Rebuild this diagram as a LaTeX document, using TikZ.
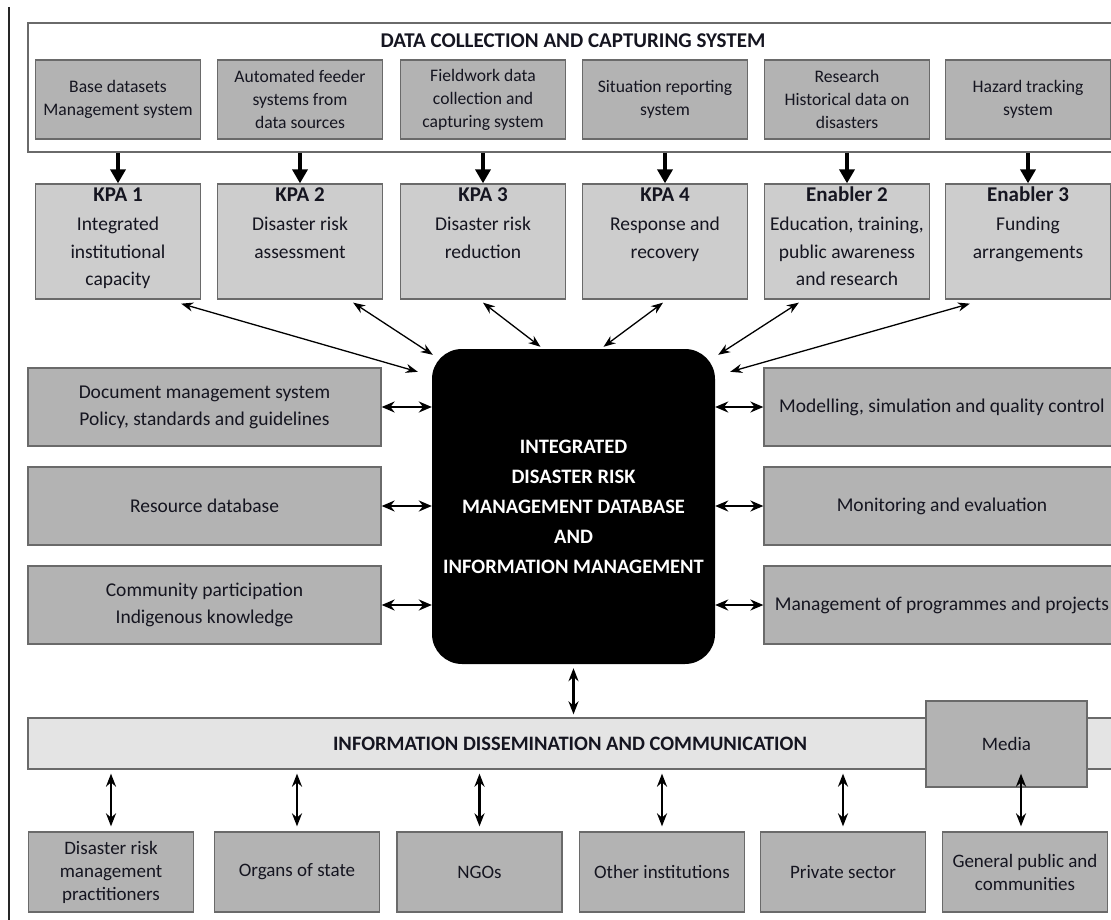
\documentclass[tikz,border=0pt]{standalone}
\usepackage{fontspec}
\setmainfont{Carlito}
\usetikzlibrary{arrows.meta,calc}
\definecolor{boxd}{HTML}{B3B3B3}
\definecolor{boxl}{HTML}{CDCDCD}
\definecolor{barc}{HTML}{E4E4E4}
\definecolor{edgec}{HTML}{6A6A6A}
\definecolor{txt}{HTML}{151520}
\begin{document}
\begin{tikzpicture}[x=1pt,y=-1pt,
  every node/.style={text=txt},
  base/.style={draw=edgec, line width=1.3pt, align=center, inner sep=0pt},
  topbox/.style={base, fill=boxd, minimum width=165pt, minimum height=79pt, font=\fontsize{17.6}{23}\selectfont},
  kpabox/.style={base, fill=boxl, font=\fontsize{19.5}{27.5}\selectfont},
  sidebox/.style={base, fill=boxd, minimum height=78pt, font=\fontsize{19.5}{27}\selectfont},
  botbox/.style={base, fill=boxd, minimum width=165pt, minimum height=80pt, font=\fontsize{19}{23}\selectfont},
  fatarrow/.style={line width=4.5pt, -{Triangle[length=14pt,width=15pt]}},
  diag/.style={line width=1.3pt, {Stealth[length=12pt,width=9pt]}-{Stealth[length=12pt,width=9pt]}},
  harrow/.style={line width=2pt, {Stealth[length=13pt,width=11pt]}-{Stealth[length=13pt,width=11pt]}},
  varrow/.style={line width=2.5pt, {Stealth[length=13pt,width=10pt]}-{Stealth[length=13pt,width=10pt]}},
]
\useasboundingbox (0,0) rectangle (1111,920);
\clip (0,0) rectangle (1111,920);

% left margin rule
\draw[line width=1.6pt, black!85] (9,7) -- (9,920);

% data collection container
\node[draw=edgec, line width=1.3pt, minimum width=1090pt, minimum height=129pt, inner sep=0pt] (dc) at (573,87.5) {};
\node[font=\bfseries\fontsize{21}{24}\selectfont] (dct) at (573,41) {DATA COLLECTION AND CAPTURING SYSTEM};

% top boxes
\node[topbox] (t1) at (118,99.5) {Base datasets\\Management system};
\node[topbox] (t2) at (300,99.5) {Automated feeder\\systems from\\data sources};
\node[topbox] (t3) at (483,99.5) {Fieldwork data\\collection and\\capturing system};
\node[topbox] (t4) at (665,99.5) {Situation reporting\\system};
\node[topbox] (t5) at (847,99.5) {Research\\Historical data on\\disasters};
\node[topbox] (t6) at (1028,99.5) {Hazard tracking\\system};

% KPA / enabler boxes
\newcommand{\kpa}[2]{\parbox[c][115pt][t]{165pt}{\centering\rule{0pt}{17.5pt}{\bfseries\fontsize{21}{27.5}\selectfont #1}\\[1.5pt]#2}}
\node[kpabox] (k1) at (118,241.5) {\kpa{KPA 1}{Integrated\\institutional\\capacity}};
\node[kpabox] (k2) at (300,241.5) {\kpa{KPA 2}{Disaster risk\\assessment}};
\node[kpabox] (k3) at (483,241.5) {\kpa{KPA 3}{Disaster risk\\reduction}};
\node[kpabox] (k4) at (665,241.5) {\kpa{KPA 4}{Response and\\recovery}};
\node[kpabox] (k5) at (847,241.5) {\kpa{Enabler 2}{Education, training,\\public awareness\\and research}};
\node[kpabox] (k6) at (1028,241.5) {\kpa{Enabler 3}{Funding\\arrangements}};

\foreach \i in {1,...,6}{
  \draw[fatarrow] (t\i.south |- dc.south) -- (k\i.north);
}

% central database
\node[fill=black, rounded corners=30pt, minimum width=283pt, minimum height=315pt, align=center, inner sep=0pt,
      text=white, font=\bfseries\fontsize{20.5}{30}\selectfont] (c) at (573.5,506.5)
  {INTEGRATED\\DISASTER RISK\\MANAGEMENT DATABASE\\AND\\INFORMATION MANAGEMENT};

% diagonal links
\draw[diag] ($(k1.south east)+(-20,4)$) -- ($(c.north west)+(-14,23)$);
\draw[diag] ($(k2.south east)+(-30,3)$) -- ($(c.north west)+(1,6)$);
\draw[diag] ($(k3.south)+(0,3)$) -- ($(c.north)+(-33,-2)$);
\draw[diag] ($(k4.south)+(-2,3)$) -- ($(c.north)+(30,-2)$);
\draw[diag] ($(k5.south west)+(35,3)$) -- ($(c.north east)+(3,6)$);
\draw[diag] ($(k6.south west)+(25,4)$) -- ($(c.north east)+(15,23)$);

% left side boxes
\node[sidebox, minimum width=353pt] (l1) at (204.5,407) {Document management system\\Policy, standards and guidelines};
\node[sidebox, minimum width=353pt] (l2) at (204.5,506) {Resource database};
\node[sidebox, minimum width=353pt] (l3) at (204.5,605) {Community participation\\Indigenous knowledge};
% right side boxes
\node[sidebox, minimum width=356pt] (r1) at (942,407) {Modelling, simulation and quality control};
\node[sidebox, minimum width=356pt] (r2) at (942,506) {Monitoring and evaluation};
\node[sidebox, minimum width=356pt] (r3) at (942,605) {Management of programmes and projects};

\foreach \i in {1,2,3}{
  \draw[harrow] (l\i.east) -- (l\i.east -| c.west);
  \draw[harrow] (r\i.west -| c.east) -- (r\i.west);
}

% dissemination bar
\node[base, fill=barc, minimum width=1084pt, minimum height=51pt, font=\bfseries\fontsize{20.5}{24}\selectfont] (bar) at (570,743.5)
  {INFORMATION DISSEMINATION AND COMMUNICATION};
\node[base, fill=boxd, minimum width=161pt, minimum height=86pt, font=\fontsize{19}{22}\selectfont] (media) at (1006.5,744) {Media};

\draw[varrow, shorten <=4pt, shorten >=3pt] (c.south) -- (c.south |- bar.north);

% bottom boxes
\node[botbox] (b1) at (111,872) {Disaster risk\\management\\practitioners};
\node[botbox] (b2) at (297,872) {Organs of state};
\node[botbox] (b3) at (479.5,872) {NGOs};
\node[botbox] (b4) at (662,872) {Other institutions};
\node[botbox] (b5) at (843,872) {Private sector};
\node[botbox] (b6) at (1025,872) {General public and\\communities};

\foreach \i in {1,...,5}{
  \draw[varrow, shorten <=4pt, shorten >=5pt] (b\i.north |- bar.south) -- (b\i.north);
}
\draw[varrow, shorten <=4pt, shorten >=5pt] ($(b6.north |- bar.south)+(-4,0)$) -- ($(b6.north)+(-4,0)$);
\end{tikzpicture}
\end{document}
